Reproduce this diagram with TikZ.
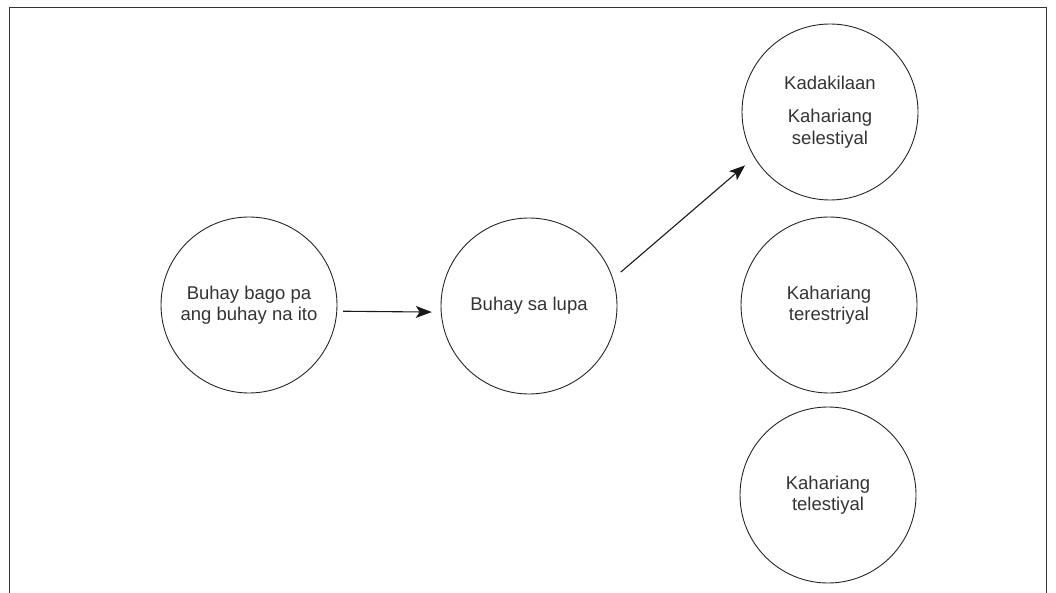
\documentclass[tikz,border=0pt]{standalone}
\usepackage{fontspec}
\setmainfont{Liberation Sans}
\usetikzlibrary{arrows.meta}

\begin{document}
\begin{tikzpicture}[x=1pt,y=-1pt,
        realm/.style={circle,draw=black!85,line width=0.9pt,minimum size=176pt,inner sep=0pt,
                align=center,text=black!80,font=\fontsize{18.5}{21.5}\selectfont},
        link/.style={line width=1.1pt,black!90,-{Stealth[length=16pt,width=12pt,inset=4pt]}}]
        \useasboundingbox (0,0) rectangle (1056,593);

        % draw the frame
        \draw[line width=1pt,black!80] (9,593) -- (9,8) -- (1046,8) -- (1046,593);

        % draw the circles
        \node[realm] (before) at (249,305) {Buhay bago pa\\ang buhay na ito};
        \node[realm] (earth) at (529,306) {Buhay sa lupa};
        \node[realm] (celestial) at (830,112) {Kadakilaan\\[12pt]Kahariang\\selestiyal};
        \node[realm] (terrestrial) at (829,305) {Kahariang\\terestriyal};
        \node[realm] (telestial) at (828,495) {Kahariang\\telestiyal};

        % draw the arrows
        \draw[link,shorten <=6pt,shorten >=9pt] (before.-4) -- (earth.184);
        \draw[link,shorten <=10pt,shorten >=12pt] (earth.18) -- (celestial.211);

\end{tikzpicture}
\end{document}
